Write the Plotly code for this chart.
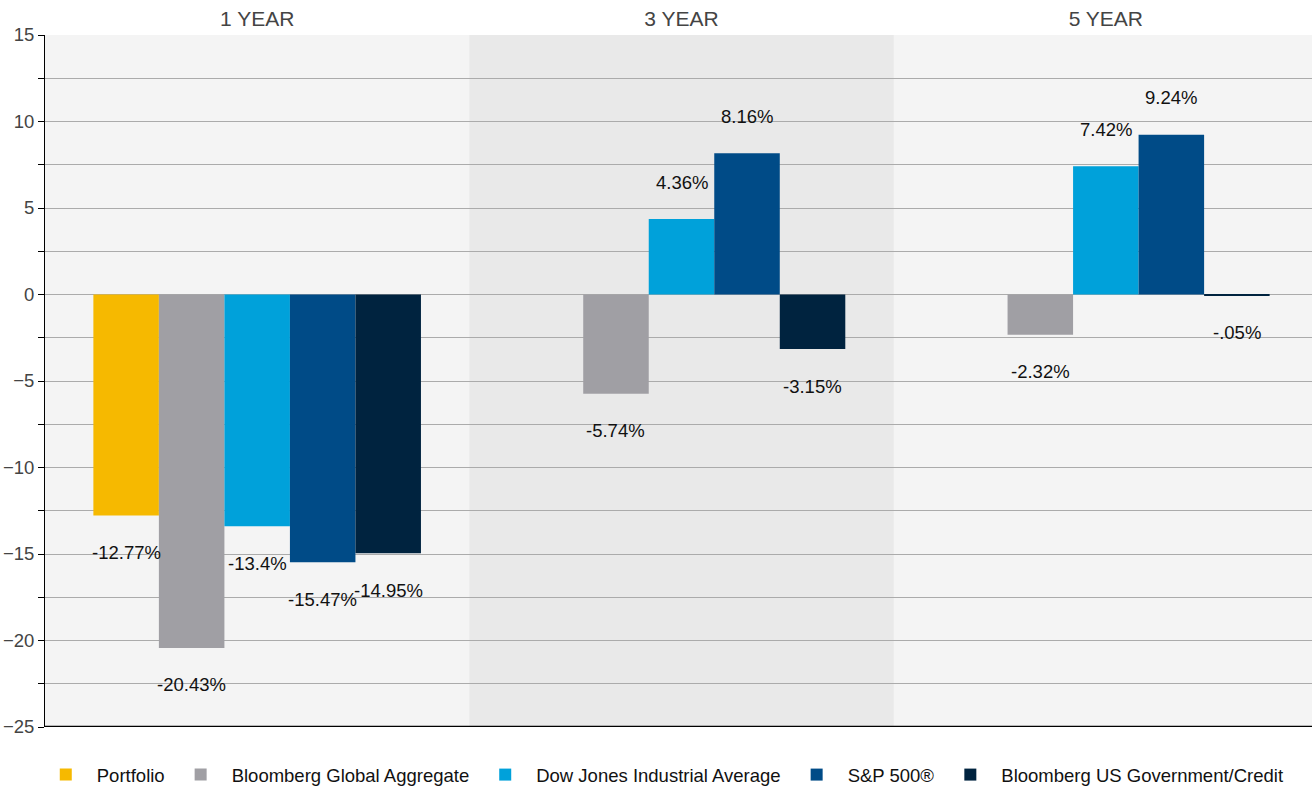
import plotly.graph_objects as go

categories = ["1 YEAR", "3 YEAR", "5 YEAR"]
series_names = ["Portfolio", "Bloomberg Global Aggregate", "Dow Jones Industrial Average",
                "S&P 500®", "Bloomberg US Government/Credit"]
portfolio = [-12.77, None, None]
bbg_global_agg = [-20.43, -5.74, -2.32]
djia = [-13.4, 4.36, 7.42]
sp500 = [-15.47, 8.16, 9.24]
bbg_us_gov_credit = [-14.95, -3.15, -0.05]
y_ticks = [15, 10, 5, 0, -5, -10, -15, -20, -25]

colors = ["#F6B900", "#A09FA4", "#00A1DA", "#004B87", "#00233F"]
all_series = [portfolio, bbg_global_agg, djia, sp500, bbg_us_gov_credit]

FONT = "Arial, Liberation Sans, sans-serif"
BARGAP = 0.228
n = len(all_series)
bw = (1 - BARGAP) / n


def fmt(v):
    s = f"{v:g}"
    s = s.replace("-0.", "-.") if s.startswith("-0.") else s
    return s + "%"


fig = go.Figure()
annotations = []
for i, (name, vals, col) in enumerate(zip(series_names, all_series, colors)):
    fig.add_trace(go.Bar(x=categories, y=vals, name=name, marker=dict(color=col, line=dict(width=0)),
                         hoverinfo="skip"))
    for ci, v in enumerate(vals):
        if v is None:
            continue
        annotations.append(dict(
            x=ci + (i - (n - 1) / 2) * bw, y=v, xref="x", yref="y",
            text=fmt(v), showarrow=False, yshift=37 if v > 0 else -37,
            font=dict(family=FONT, size=18.5, color="#111111"), xanchor="center", yanchor="middle"))

fig.update_layout(
    width=1318, height=786,
    barmode="group", bargap=BARGAP, bargroupgap=0,
    paper_bgcolor="white", plot_bgcolor="#F4F4F4",
    margin=dict(l=45, r=0, t=35, b=59, autoexpand=False),
    font=dict(family=FONT, size=18, color="#444444"),
    showlegend=True,
    legend=dict(orientation="h", x=0.4845, xanchor="center", y=-0.042, yanchor="top",
                font=dict(family=FONT, size=18.5, color="#111111"), traceorder="normal",
                itemclick=False, itemwidth=52),
    annotations=annotations,
    shapes=[
        dict(type="rect", xref="x", yref="paper", x0=0.5, x1=1.5, y0=0, y1=1,
             fillcolor="#E9E9E9", line=dict(width=0), layer="below"),
        dict(type="line", xref="paper", yref="y", x0=0, x1=1, y0=-25, y1=-25,
             line=dict(color="black", width=2.5), layer="above"),
    ],
)
fig.update_xaxes(side="top", type="category", showgrid=False, zeroline=False, showline=False,
                 ticks="", tickfont=dict(family=FONT, size=21, color="#444444"),
                 ticklabelstandoff=4, range=[-0.5, 2.5], automargin=False)
fig.update_yaxes(range=[-25, 15], tickvals=y_ticks, ticks="", showgrid=True,
                 gridcolor="#ABABAB", gridwidth=1, zeroline=False,
                 showline=True, linecolor="black", linewidth=1, automargin=False,
                 tickfont=dict(family=FONT, size=18.5, color="#444444"), ticklabelstandoff=6,
                 minor=dict(dtick=2.5, tick0=0, showgrid=True, gridcolor="#ABABAB", gridwidth=1,
                            ticks="outside", ticklen=6, tickcolor="black", tickwidth=1))

# remove the default page margin so the figure sits at the window's top-left corner
fig.write_html("out.html", config={"displayModeBar": False},
               post_script="document.body.style.margin='0';document.body.style.overflow='hidden';")
